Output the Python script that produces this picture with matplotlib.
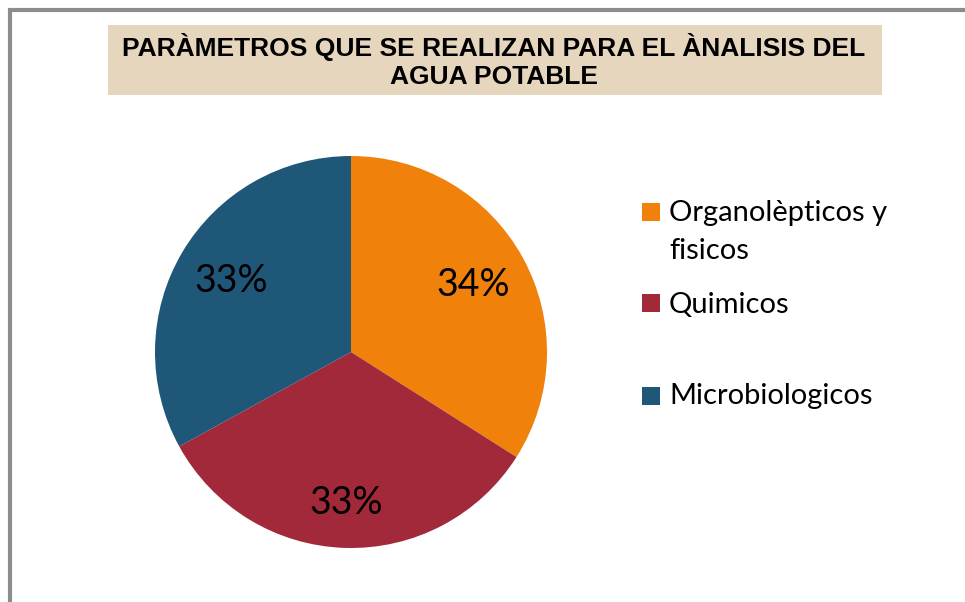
import numpy as np
import matplotlib
matplotlib.use("Agg")
import matplotlib.pyplot as plt
from matplotlib.patches import Rectangle

# data
categories = ["Organolèpticos y\nfisicos", "Quimicos", "Microbiologicos"]
values = [34, 33, 33]
colors = ["#F0820B", "#A12939", "#1F5779"]
title = "PARÀMETROS QUE SE REALIZAN PARA EL ÀNALISIS DEL\nAGUA POTABLE"

W, H = 965, 602
fig = plt.figure(figsize=(W / 100, H / 100), dpi=100)

# grey frame (only left and top edges are inside the picture)
fig.patches.append(Rectangle((9.5 / W, -0.1), 1.2, (H - 9.5) / H + 0.1,
                             transform=fig.transFigure, fill=False,
                             edgecolor="#8C8C8C", linewidth=3))

# title box
fig.patches.append(Rectangle((108 / W, 1 - 95 / H), (882 - 108) / W, (95 - 25) / H,
                             transform=fig.transFigure, facecolor="#E6D6BE",
                             edgecolor="none"))
fig.text(494 / W, 1 - 61 / H, title, ha="center", va="center",
         fontsize=19, fontweight="bold", family="Liberation Sans",
         linespacing=1.2)

# pie
cx, cy, r = 351, 352, 196
ax = fig.add_axes([(cx - r) / W, (H - cy - r) / H, 2 * r / W, 2 * r / H])
wedges, texts, autotexts = ax.pie(values, colors=colors, startangle=90,
                                  counterclock=False, autopct="%1.0f%%",
                                  pctdistance=0.71, radius=1)
for t in autotexts:
    t.set_fontfamily("Lato")
    t.set_fontsize(27)
# bottom label sits a little further out in the original
w = wedges[1]
mid = np.deg2rad((w.theta1 + w.theta2) / 2)
autotexts[1].set_position((0.77 * np.cos(mid), 0.77 * np.sin(mid)))
ax.set_xlim(-1, 1)
ax.set_ylim(-1, 1)
ax.set_aspect("equal")

# legend drawn by hand to keep the spacing of the original
sq_top = [203, 294, 387]     # px from top
text_top = [200, 292, 383]   # px from top
for wdg, lab, ys, yt in zip(wedges, categories, sq_top, text_top):
    fig.patches.append(Rectangle((642 / W, 1 - (ys + 18) / H), 18 / W, 18 / H,
                                 transform=fig.transFigure,
                                 facecolor=wdg.get_facecolor(), edgecolor="none"))
    fig.text(669 / W, 1 - yt / H, lab, ha="left", va="top",
             family="Lato", fontsize=21, linespacing=1.55)

fig.savefig("out.png", dpi=100)
